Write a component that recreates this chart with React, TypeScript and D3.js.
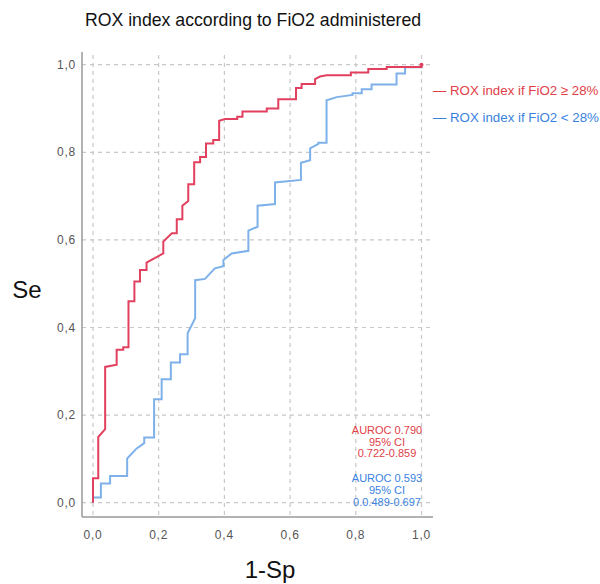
import React from "react";
import * as d3 from "d3";

const ticks = [0, 0.2, 0.4, 0.6, 0.8, 1.0];
const tickLabels = ["0,0", "0,2", "0,4", "0,6", "0,8", "1,0"];

// ROC vertices [1-Sp, Se] for FiO2 >= 28%
const redFpr = [0,0,0.016,0.016,0.037,0.037,0.072,0.072,0.092,0.092,0.108,0.108,0.126,0.126,0.143,0.143,0.163,0.163,0.214,0.214,0.24,0.255,0.255,0.272,0.272,0.29,0.29,0.308,0.308,0.326,0.326,0.344,0.344,0.366,0.366,0.384,0.384,0.402,0.439,0.439,0.455,0.455,0.529,0.529,0.564,0.564,0.618,0.618,0.635,0.635,0.676,0.676,0.691,0.711,0.785,0.785,0.838,0.838,0.894,0.894,1,1];
const redTpr = [0,0.056,0.056,0.15,0.168,0.31,0.315,0.349,0.349,0.355,0.355,0.46,0.46,0.505,0.505,0.531,0.531,0.548,0.569,0.596,0.615,0.615,0.647,0.647,0.678,0.689,0.727,0.727,0.777,0.777,0.789,0.789,0.82,0.82,0.828,0.828,0.872,0.876,0.876,0.881,0.881,0.893,0.893,0.9,0.9,0.921,0.921,0.947,0.947,0.956,0.956,0.967,0.973,0.976,0.976,0.982,0.982,0.99,0.99,0.995,0.995,1];

// ROC vertices for FiO2 < 28%
const blueFpr = [0,0,0.024,0.024,0.052,0.052,0.104,0.104,0.133,0.156,0.156,0.186,0.186,0.209,0.209,0.237,0.237,0.265,0.265,0.288,0.288,0.311,0.311,0.341,0.371,0.397,0.397,0.422,0.473,0.473,0.501,0.501,0.554,0.554,0.633,0.633,0.661,0.661,0.686,0.686,0.711,0.711,0.742,0.79,0.79,0.818,0.818,0.848,0.848,0.924,0.924,0.95,0.95,1,1];
const blueTpr = [0,0.012,0.012,0.044,0.044,0.061,0.061,0.101,0.124,0.136,0.149,0.149,0.236,0.236,0.282,0.282,0.32,0.32,0.339,0.339,0.387,0.421,0.508,0.511,0.535,0.54,0.554,0.569,0.575,0.621,0.63,0.678,0.682,0.731,0.737,0.776,0.782,0.809,0.819,0.822,0.822,0.919,0.926,0.931,0.935,0.935,0.944,0.944,0.955,0.955,0.98,0.98,0.994,0.994,1];

const titleText = "ROX index according to FiO2 administered";
const legendRed = "— ROX index if FiO2 ≥ 28%";
const legendBlue = "— ROX index if FiO2 < 28%";
const redStats = ["AUROC 0.790", "95% CI", "0.722-0.859"];
const blueStats = ["AUROC 0.593", "95% CI", "0.0.489-0.697"];

const RED = "#e2405f";
const BLUE = "#7eb1ea";
const RED_TXT = "#e04048";
const BLUE_TXT = "#3a82e0";

export default function App() {
  const x = d3.scaleLinear().domain([0, 1]).range([93, 421.5]);
  const y = d3.scaleLinear().domain([0, 1]).range([502.7, 64.7]);
  const line = d3.line<[number, number]>().x(d => x(d[0])).y(d => y(d[1]));
  const red: [number, number][] = redFpr.map((v, i) => [v, redTpr[i]]);
  const blue: [number, number][] = blueFpr.map((v, i) => [v, blueTpr[i]]);
  const font = "Liberation Sans, Arial, sans-serif";
  const left = 82, right = 433, top = 52, bottom = 517;
  return (
    <svg width={600} height={584} style={{ position: "absolute", left: 0, top: 0, background: "#fff" }} fontFamily={font}>
      <text x={253} y={26} fontSize={17.7} textAnchor="middle" fill="#111">{titleText}</text>
      {ticks.map(t => (
        <line key={"h" + t} x1={left} x2={right} y1={y(t)} y2={y(t)} stroke="#c8c8c8" strokeWidth={1.2} strokeDasharray="4,4" />
      ))}
      {ticks.map(t => (
        <line key={"v" + t} x1={x(t)} x2={x(t)} y1={top + 3} y2={bottom} stroke="#c8c8c8" strokeWidth={1.2} strokeDasharray="4,4" />
      ))}
      <line x1={left} x2={left} y1={top} y2={bottom} stroke="#999" strokeWidth={1.5} />
      <line x1={left} x2={right} y1={bottom} y2={bottom} stroke="#999" strokeWidth={1.5} />
      {ticks.map((t, i) => (
        <text key={"yl" + t} x={76} y={y(t) + 4} fontSize={12} textAnchor="end" fill="#555" letterSpacing={0.8}>{tickLabels[i]}</text>
      ))}
      {ticks.map((t, i) => (
        <text key={"xl" + t} x={x(t)} y={539} fontSize={12} textAnchor="middle" fill="#555" letterSpacing={0.8}>{tickLabels[i]}</text>
      ))}
      <path d={line(blue) || ""} fill="none" stroke={BLUE} strokeWidth={2} />
      <path d={line(red) || ""} fill="none" stroke={RED} strokeWidth={2} />
      <circle cx={x(1)} cy={y(1)} r={2} fill={RED} />
      <text x={433} y={95} fontSize={13.3} fill={RED_TXT}>{legendRed}</text>
      <text x={433} y={122} fontSize={13.3} fill={BLUE_TXT}>{legendBlue}</text>
      {redStats.map((s, i) => (
        <text key={"rs" + i} x={387} y={434 + i * 11.5} fontSize={11} textAnchor="middle" fill={RED_TXT}>{s}</text>
      ))}
      {blueStats.map((s, i) => (
        <text key={"bs" + i} x={387} y={481.5 + i * 12.2} fontSize={11} textAnchor="middle" fill={BLUE_TXT}>{s}</text>
      ))}
      <text x={27} y={298} fontSize={24} textAnchor="middle" fill="#111">Se</text>
      <text x={270} y={578} fontSize={24} textAnchor="middle" fill="#111">1-Sp</text>
    </svg>
  );
}
